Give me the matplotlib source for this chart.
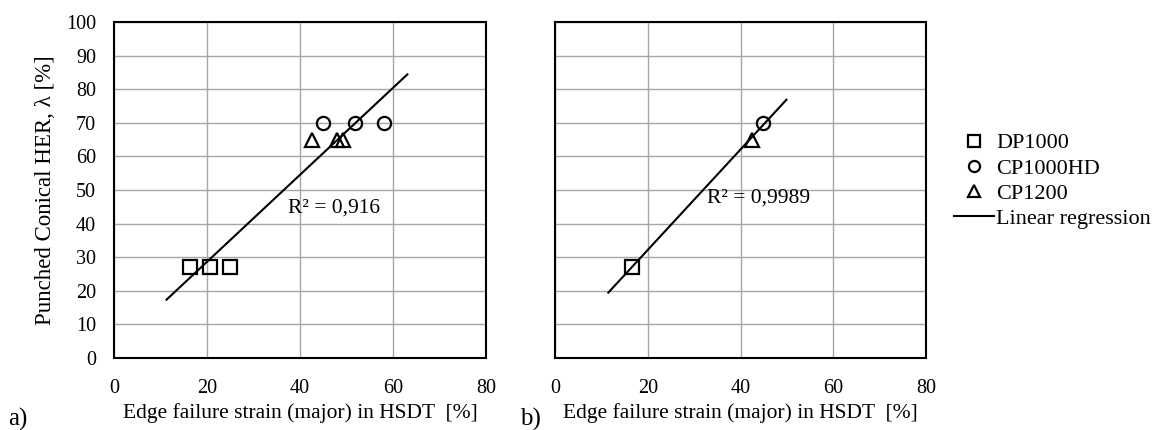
import matplotlib
matplotlib.use("Agg")
import matplotlib.pyplot as plt
from matplotlib.lines import Line2D
import numpy as np

plt.rcParams['font.family'] = ['Liberation Serif', 'DejaVu Serif']

# panel a) : individual measurements
a_dp_x = [16.3, 20.6, 24.9]
a_dp_y = [27, 27, 27]
a_cp_x = [44.9, 51.9, 58.1]
a_cp_y = [70, 70, 70]
a_c12_x = [42.5, 48.0, 49.2]
a_c12_y = [65, 65, 65]
a_r2 = "R² = 0,916"

# panel b) : one value per material
b_dp_x = [16.5]
b_dp_y = [27]
b_cp_x = [44.9]
b_cp_y = [70]
b_c12_x = [42.4]
b_c12_y = [65]
b_r2 = "R² = 0,9989"

materials = ['DP1000', 'CP1000HD', 'CP1200']
markers = ['s', 'o', '^']
x_ticks = [0, 20, 40, 60, 80]
y_ticks = list(range(0, 101, 10))
xlabel = 'Edge failure strain (major) in HSDT  [%]'
ylabel = 'Punched Conical HER, λ [%]'

FS_TICK = 14.5
FS_LAB = 15.5

fig = plt.figure(figsize=(11.56, 4.30), dpi=100)
ax_a = fig.add_axes([0.0986, 0.1674, 0.3218, 0.7814])
ax_b = fig.add_axes([0.4801, 0.1674, 0.3210, 0.7814])


def draw_panel(ax, xs, ys, r2_text, r2_pos, show_y):
    for x, y, m in zip(xs, ys, markers):
        ax.plot(x, y, linestyle='none', marker=m, markersize=9.5,
                markerfacecolor='none', markeredgecolor='black',
                markeredgewidth=1.6, zorder=3)
    # linear trendline, extended 5 units each side (Excel style)
    allx = np.concatenate([np.asarray(v, float) for v in xs])
    ally = np.concatenate([np.asarray(v, float) for v in ys])
    k, b = np.polyfit(allx, ally, 1)
    lx = np.array([allx.min() - 5, allx.max() + 5])
    ax.plot(lx, k * lx + b, color='black', linewidth=1.5, zorder=2)
    ax.text(r2_pos[0], r2_pos[1], r2_text, fontsize=FS_LAB, va='center', ha='left')

    ax.set_xlim(0, 80)
    ax.set_ylim(0, 100)
    ax.set_xticks(x_ticks)
    ax.set_yticks(y_ticks)
    ax.grid(True, color='#a6a6a6', linewidth=1.0)
    ax.set_axisbelow(True)
    ax.tick_params(length=0, labelsize=FS_TICK, pad=15)
    ax.tick_params(axis='y', pad=13)
    for s in ax.spines.values():
        s.set_linewidth(1.5)
        s.set_color('black')
    ax.set_xlabel(xlabel, fontsize=FS_LAB, labelpad=4)
    if show_y:
        ax.set_ylabel(ylabel, fontsize=16.5, labelpad=7)
    else:
        ax.set_yticklabels([])


draw_panel(ax_a, [a_dp_x, a_cp_x, a_c12_x], [a_dp_y, a_cp_y, a_c12_y],
           a_r2, (37.4, 44.6), True)
draw_panel(ax_b, [b_dp_x, b_cp_x, b_c12_x], [b_dp_y, b_cp_y, b_c12_y],
           b_r2, (32.8, 47.6), False)

fig.text(0.007, 0.025, 'a)', fontsize=18, va='center', ha='left')
fig.text(0.450, 0.025, 'b)', fontsize=18, va='center', ha='left')

handles = [Line2D([], [], linestyle='none', marker=m, markersize=8,
                  markerfacecolor='none', markeredgecolor='black',
                  markeredgewidth=1.6) for m in markers]
handles.append(Line2D([], [], color='black', linewidth=1.5))
labels = materials + ['Linear regression']
fig.legend(handles, labels, loc='upper left', bbox_to_anchor=(0.825, 0.691),
           frameon=False, fontsize=16, handlelength=1.8, handletextpad=0.1,
           labelspacing=0.21, borderaxespad=0, borderpad=0)

fig.savefig('out.png', dpi=100)
